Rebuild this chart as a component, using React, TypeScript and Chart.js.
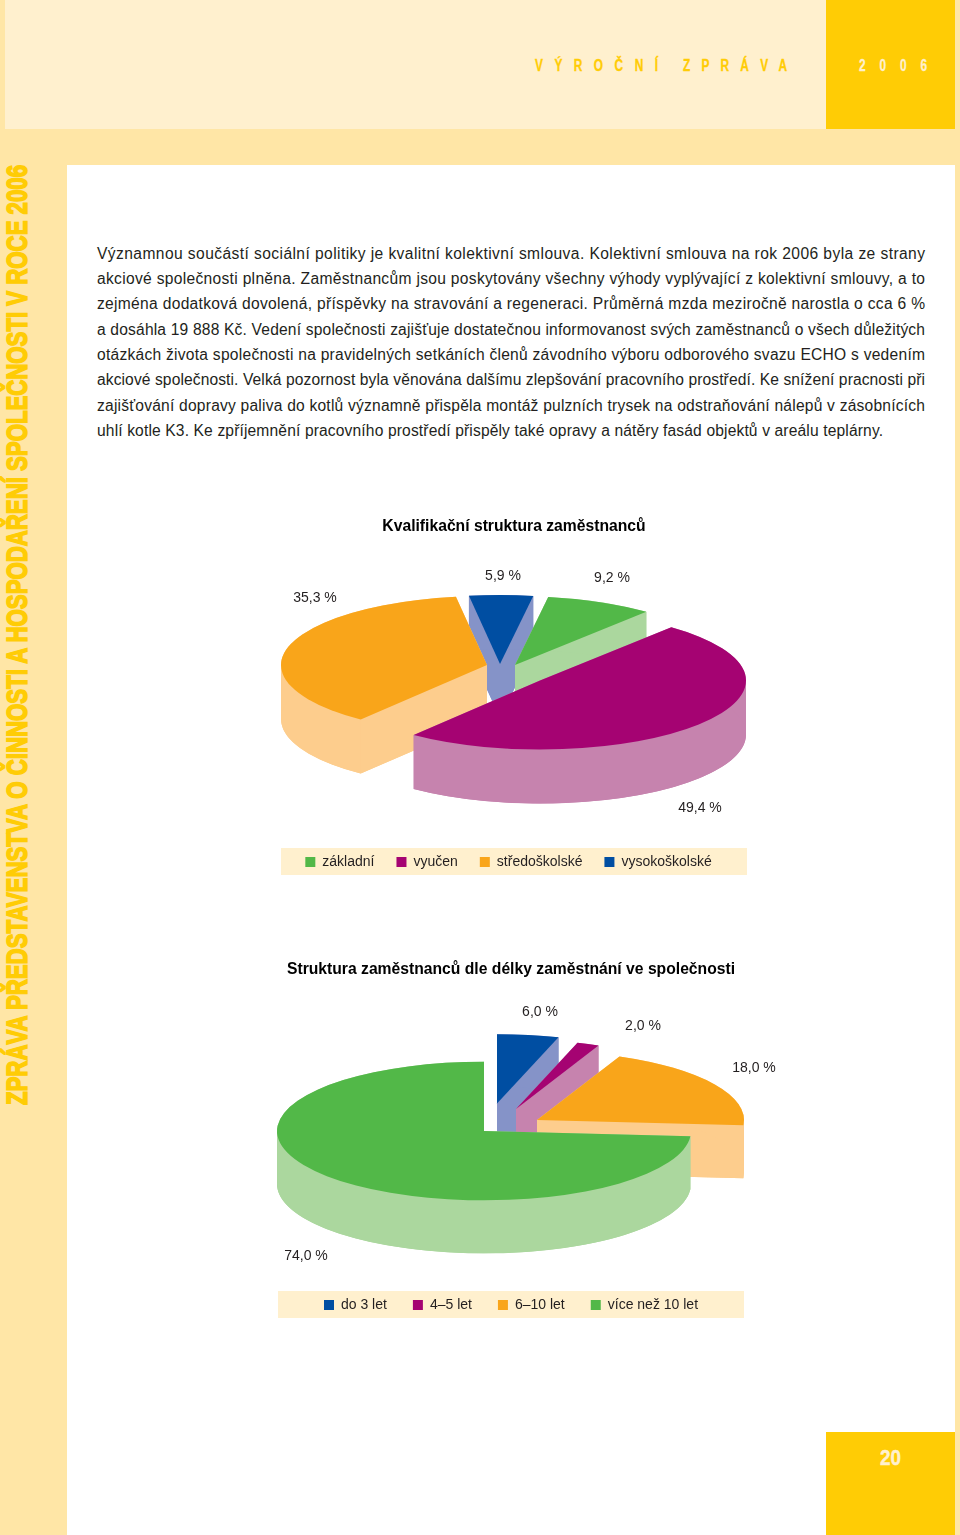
import React, { useEffect, useRef } from "react";
import { Chart, registerables } from "chart.js";

Chart.register(...registerables);

// ---- data ----
const qualCategories = ["základní", "vyučen", "středoškolské", "vysokoškolské"];
const qualValues = [9.2, 49.4, 35.3, 5.9];
const qualTitle = "Kvalifikační struktura zaměstnanců";

const tenureCategories = ["do 3 let", "4–5 let", "6–10 let", "více než 10 let"];
const tenureValues = [6.0, 2.0, 18.0, 74.0];
const tenureTitle = "Struktura zaměstnanců dle délky zaměstnání ve společnosti";

const bodyLines = [
  "Významnou součástí sociální politiky je kvalitní kolektivní smlouva. Kolektivní smlouva na rok 2006 byla ze strany",
  "akciové společnosti plněna. Zaměstnancům jsou poskytovány všechny výhody vyplývající z kolektivní smlouvy, a to",
  "zejména dodatková dovolená, příspěvky na stravování a regeneraci. Průměrná mzda meziročně narostla o cca 6 %",
  "a dosáhla 19 888 Kč. Vedení společnosti zajišťuje dostatečnou informovanost svých zaměstnanců o všech důležitých",
  "otázkách života společnosti na pravidelných setkáních členů závodního výboru odborového svazu ECHO s vedením",
  "akciové společnosti. Velká pozornost byla věnována dalšímu zlepšování pracovního prostředí. Ke snížení pracnosti při",
  "zajišťování dopravy paliva do kotlů významně přispěla montáž pulzních trysek na odstraňování nálepů v zásobnících",
  "uhlí kotle K3. Ke zpříjemnění pracovního prostředí přispěly také opravy a nátěry fasád objektů v areálu teplárny.",
];
const sideText = "ZPRÁVA PŘEDSTAVENSTVA O ČINNOSTI A HOSPODAŘENÍ SPOLEČNOSTI V ROCE 2006";

// ---- styles ----
const GREEN = "#52b848";
const GREEN_W = "#abd79e";
const PURPLE = "#a50372";
const PURPLE_W = "#c683ae";
const ORANGE = "#f9a51a";
const ORANGE_W = "#fdcd8d";
const BLUE = "#004ea2";
const BLUE_W = "#8593c8";
const STRIP = "#ffe6a6";
const PANEL = "#fff0ce";
const YELLOW = "#ffcc05";
const INK = "#231f20";
const FONT = "'Liberation Sans', Arial, sans-serif";

const tiltPlugin: any = {
  id: "tilt",
  afterLayout(chart: any, _a: any, o: any) {
    if (chart.legend && o.legendShift) {
      chart.legend.left += o.legendShift;
      chart.legend.right += o.legendShift;
    }
  },
  beforeDraw(chart: any, _a: any, o: any) {
    const { ctx } = chart;
    ctx.save();
    ctx.fillStyle = o.bandColor;
    ctx.fillRect(chart.width / 2 - o.bandWidth / 2, chart.height - o.bandFromBottom - o.bandHeight / 2, o.bandWidth, o.bandHeight);
    ctx.restore();
  },
  beforeDatasetDraw(chart: any, args: any, o: any) {
    const { ctx } = chart;
    const meta = chart.getDatasetMeta(args.index);
    const warp = (a: number) => {
      const t = a + Math.PI / 2;
      return t - o.warp * Math.sin(2 * t) - Math.PI / 2;
    };
    const items = meta.data.map((arc: any, i: number) => ({ arc, i }));
    const mid = (it: any) => (it.arc.startAngle + it.arc.endAngle) / 2;
    // back slices first: the higher the middle of the slice, the earlier it is painted
    items.sort((p: any, q: any) => Math.sin(mid(p)) - Math.sin(mid(q)));
    ctx.save();
    for (const it of items) {
      const r = it.arc.outerRadius;
      const b = r * o.squash;
      const x = o.center[0] + o.explode[it.i][0];
      const y = o.center[1] + o.explode[it.i][1];
      const a0 = warp(it.arc.startAngle);
      const a1 = warp(it.arc.endAngle);
      const at = (a: number) => [x + r * Math.cos(a), y + b * Math.sin(a)];
      const p1 = at(a1);
      const d = o.depth;
      const sector = (drop: number) => {
        ctx.beginPath();
        ctx.moveTo(x, y + drop);
        ctx.ellipse(x, y + drop, r, b, 0, a0, a1);
        ctx.closePath();
        ctx.fill();
      };
      const face = (p: number[]) => {
        ctx.beginPath();
        ctx.moveTo(x, y);
        ctx.lineTo(p[0], p[1]);
        ctx.lineTo(p[0], p[1] + d);
        ctx.lineTo(x, y + d);
        ctx.closePath();
        ctx.fill();
      };
      ctx.fillStyle = o.walls[it.i];
      sector(d);
      face(at(a0));
      face(p1);
      // the wall also reaches the left and right extremes of the ellipse
      for (let k = -2; k <= 4; k++) {
        const e = k * Math.PI;
        if (e > a0 && e < a1) face(at(e));
      }
      ctx.beginPath();
      ctx.ellipse(x, y, r, b, 0, a0, a1);
      ctx.lineTo(p1[0], p1[1] + d);
      ctx.ellipse(x, y + d, r, b, 0, a1, a0, true);
      ctx.closePath();
      ctx.fill();
      ctx.fillStyle = it.arc.options.backgroundColor;
      sector(0);
    }
    ctx.fillStyle = INK;
    ctx.font = `14px ${FONT}`;
    ctx.textAlign = "center";
    ctx.textBaseline = "middle";
    const values = chart.data.datasets[args.index].data;
    values.forEach((v: number, i: number) => {
      const t = v.toFixed(1).replace(".", ",") + " %";
      ctx.fillText(t, o.center[0] + o.labelAt[i][0], o.center[1] + o.labelAt[i][1]);
    });
    ctx.restore();
    return false;
  },
};

function Pie(props: any) {
  const ref = useRef<HTMLCanvasElement | null>(null);
  const { left, top, width, height, title, categories, values, colors, radius, rotation, tilt, legendPadding } = props;
  useEffect(() => {
    const chart = new Chart(ref.current as HTMLCanvasElement, {
      type: "pie",
      plugins: [tiltPlugin],
      data: {
        labels: categories,
        datasets: [{ data: values, backgroundColor: colors, borderWidth: 0, radius, hoverOffset: 0 }],
      },
      options: {
        responsive: false,
        animation: false,
        devicePixelRatio: 1,
        rotation,
        events: [],
        layout: { padding: 0 },
        plugins: {
          tooltip: { enabled: false },
          title: {
            display: true,
            text: title,
            color: "#000",
            font: { family: FONT, size: 15.7, weight: "bold" },
            padding: { top: 17, bottom: 10 },
          },
          legend: {
            display: true,
            position: "bottom",
            labels: {
              boxWidth: 10,
              boxHeight: 10,
              padding: legendPadding,
              color: INK,
              font: { family: FONT, size: 14 },
            },
          },
          tilt,
        },
      },
    } as any);
    return () => chart.destroy();
  }, []);
  return <canvas ref={ref} width={width} height={height} style={{ position: "absolute", left, top, width, height }} />;
}

export default function App() {
  const hs = 0.7;
  return (
    <div style={{ position: "absolute", left: 0, top: 0, width: 960, height: 1535, overflow: "hidden", background: STRIP }}>
      <div style={{ position: "absolute", left: 5, top: 0, width: 821, height: 129, background: PANEL }} />
      <div style={{ position: "absolute", left: 826, top: 0, width: 129, height: 129, background: YELLOW }} />
      <div style={{ position: "absolute", left: 67, top: 165, width: 888, height: 1370, background: "#fff" }} />
      <div style={{ position: "absolute", left: 826, top: 1432, width: 129, height: 103, background: YELLOW }} />
      <svg width={960} height={1535} style={{ position: "absolute", left: 0, top: 0 }}>
        <g fontFamily={FONT} fontWeight="bold" fontSize={17} strokeWidth={0.35}>
          <text transform={`translate(535 71) scale(${hs} 1)`} fill={YELLOW} stroke={YELLOW} textLength={123 / hs} lengthAdjust="spacing">VÝROČNÍ</text>
          <text transform={`translate(683 71) scale(${hs} 1)`} fill={YELLOW} stroke={YELLOW} textLength={104 / hs} lengthAdjust="spacing">ZPRÁVA</text>
          <text transform={`translate(859 71) scale(${hs} 1)`} fill={PANEL} stroke={PANEL} textLength={68 / hs} lengthAdjust="spacing">2006</text>
          <text x={880} y={1465} fill={PANEL} stroke={PANEL} strokeWidth={0.5} fontSize={22} textLength={21} lengthAdjust="spacingAndGlyphs">20</text>
        </g>
        <text
          transform="translate(27 1105) rotate(-90)"
          fontFamily={FONT}
          fontWeight="bold"
          fontSize={30}
          fill={YELLOW}
          stroke={YELLOW}
          strokeWidth={1.6}
          textLength={940}
          lengthAdjust="spacingAndGlyphs"
        >
          {sideText}
        </text>
        <g fontFamily={FONT} fontSize={15.6} fill={INK}>
          {bodyLines.map((t, i) => (
            <text key={i} x={97} y={258.5 + i * 25.35} textLength={i < 7 ? 828 : 786} lengthAdjust="spacing">
              {t}
            </text>
          ))}
        </g>
      </svg>
      <Pie
        left={214}
        top={500}
        width={600}
        height={379}
        title={qualTitle}
        legendPadding={22}
        categories={qualCategories}
        values={qualValues}
        colors={[GREEN, PURPLE, ORANGE, BLUE]}
        radius={206}
        rotation={11}
        tilt={{
          center: [286, 170],
          squash: 0.335,
          depth: 54,
          warp: 0.08,
          walls: [GREEN_W, PURPLE_W, ORANGE_W, BLUE_W],
          explode: [[15, -5], [40, 10.5], [-13, -5], [0, -6]],
          labelAt: [[112, -92], [200, 138], [-185, -72], [3, -94]],
          bandColor: PANEL,
          bandWidth: 466,
          bandHeight: 27,
          bandFromBottom: 17.5,
          legendShift: -5.5,
        }}
      />
      <Pie
        left={211}
        top={943}
        width={600}
        height={379}
        title={tenureTitle}
        legendPadding={26}
        categories={tenureCategories}
        values={tenureValues}
        colors={[BLUE, PURPLE, ORANGE, GREEN]}
        radius={207}
        rotation={0}
        tilt={{
          center: [276, 185],
          squash: 0.335,
          depth: 53,
          warp: 0.11,
          walls: [BLUE_W, PURPLE_W, ORANGE_W, GREEN_W],
          explode: [[10, -24.5], [29, -19], [50, -8], [-3, 3]],
          labelAt: [[53, -116], [156, -102], [267, -60], [-181, 128]],
          bandColor: PANEL,
          bandWidth: 466,
          bandHeight: 27,
          bandFromBottom: 17.5,
          legendShift: 0,
        }}
      />
    </div>
  );
}
